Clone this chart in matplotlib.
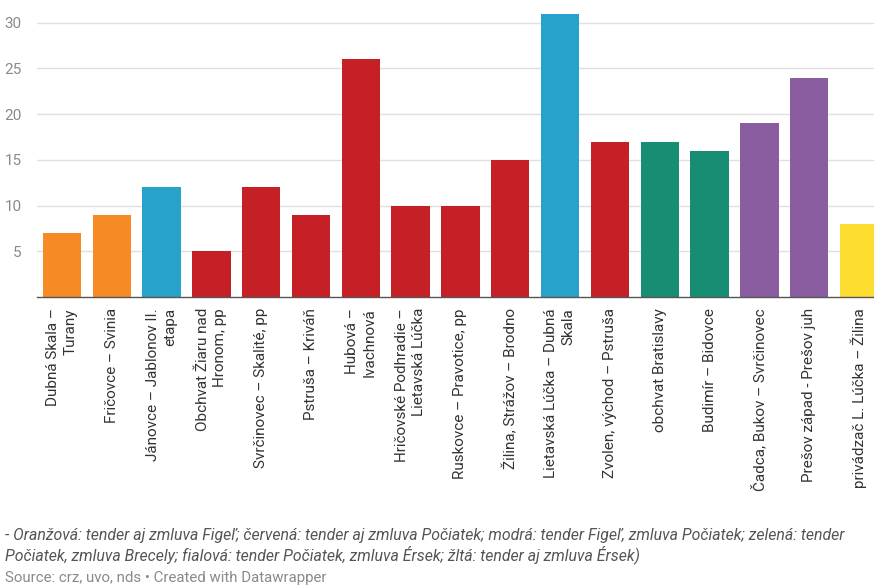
import matplotlib
matplotlib.use("Agg")
import matplotlib.pyplot as plt

# ── Data ───────────────────────────────────────────────────────────────────
sections = [
    "Dubná Skala –\nTurany",
    "Fričovce – Svinia",
    "Jánovce – Jablonov II.\netapa",
    "Obchvat Žiaru nad\nHronom, pp",
    "Svrčinovec – Skalité, pp",
    "Pstruša – Kriváň",
    "Hubová –\nIvachnová",
    "Hričovské Podhradie –\nLietavská Lúčka",
    "Ruskovce – Pravotice, pp",
    "Žilina, Strážov – Brodno",
    "Lietavská Lúčka – Dubná\nSkala",
    "Zvolen, východ – Pstruša",
    "obchvat Bratislavy",
    "Budimír – Bidovce",
    "Čadca, Bukov – Svrčinovec",
    "Prešov západ - Prešov juh",
    "privádzač L. Lúčka – Žilina",
]
values = [7, 9, 12, 5, 12, 9, 26, 10, 10, 15, 31, 17, 17, 16, 19, 24, 8]
# tender / contract signed by (see footnote)
groups = ["oranzova", "oranzova", "modra", "cervena", "cervena", "cervena",
          "cervena", "cervena", "cervena", "cervena", "modra", "cervena",
          "zelena", "zelena", "fialova", "fialova", "zlta"]

y_ticks = [5, 10, 15, 20, 25, 30]

note = ("- Oranžová: tender aj zmluva Figeľ; červená: tender aj zmluva Počiatek; "
        "modrá: tender Figeľ, zmluva Počiatek; zelená: tender\n"
        "Počiatek, zmluva Brecely; fialová: tender Počiatek, zmluva Érsek; "
        "žltá: tender aj zmluva Érsek)")
source = "Source: crz, uvo, nds • Created with Datawrapper"

# ── Style ──────────────────────────────────────────────────────────────────
palette = {
    "oranzova": "#f68b25",
    "cervena":  "#c42026",
    "modra":    "#28a2cb",
    "zelena":   "#178e74",
    "fialova":  "#8a5da0",
    "zlta":     "#fedd31",
}
plt.rcParams["font.family"] = ["Roboto", "DejaVu Sans"]

W, H = 874, 586
fig = plt.figure(figsize=(W / 100, H / 100), dpi=100)
# axes box in pixels: left 37, baseline 297, top of 31 at ~14
ax = fig.add_axes([37 / W, 1 - 297 / H, 1 - 37 / W, (297 - 13.6) / H])

x = list(range(len(values)))
ax.bar(x, values, width=0.77, color=[palette[g] for g in groups],
       zorder=3, linewidth=0)

ax.set_xlim(-0.5, len(values) - 0.7)
ax.set_ylim(0, 31)

ax.set_yticks(y_ticks)
ax.set_yticklabels([str(t) for t in y_ticks])
ax.tick_params(axis="y", length=0, pad=11, labelsize=11, labelcolor="#8a8a8a")
ax.grid(axis="y", color="#e0e0e0", linewidth=1.0, zorder=0)

ax.set_xticks(x)
ax.set_xticklabels(sections, rotation=90, rotation_mode="anchor",
                   ha="right", va="center", multialignment="right",
                   linespacing=1.3)
ax.tick_params(axis="x", length=0, pad=8, labelsize=11, labelcolor="#333333")

for s in ["top", "right", "left"]:
    ax.spines[s].set_visible(False)
ax.spines["bottom"].set_color("#555555")
ax.spines["bottom"].set_linewidth(1.0)
ax.spines["bottom"].set_zorder(4)

fig.text(5 / W, 1 - 528 / H, note, ha="left", va="top", fontsize=11.4,
         style="italic", color="#555555", linespacing=1.12)
fig.text(5 / W, 1 - 578 / H, source, ha="left", va="center", fontsize=10.8,
         color="#8a8a8a")

fig.savefig("out.png", dpi=100)
